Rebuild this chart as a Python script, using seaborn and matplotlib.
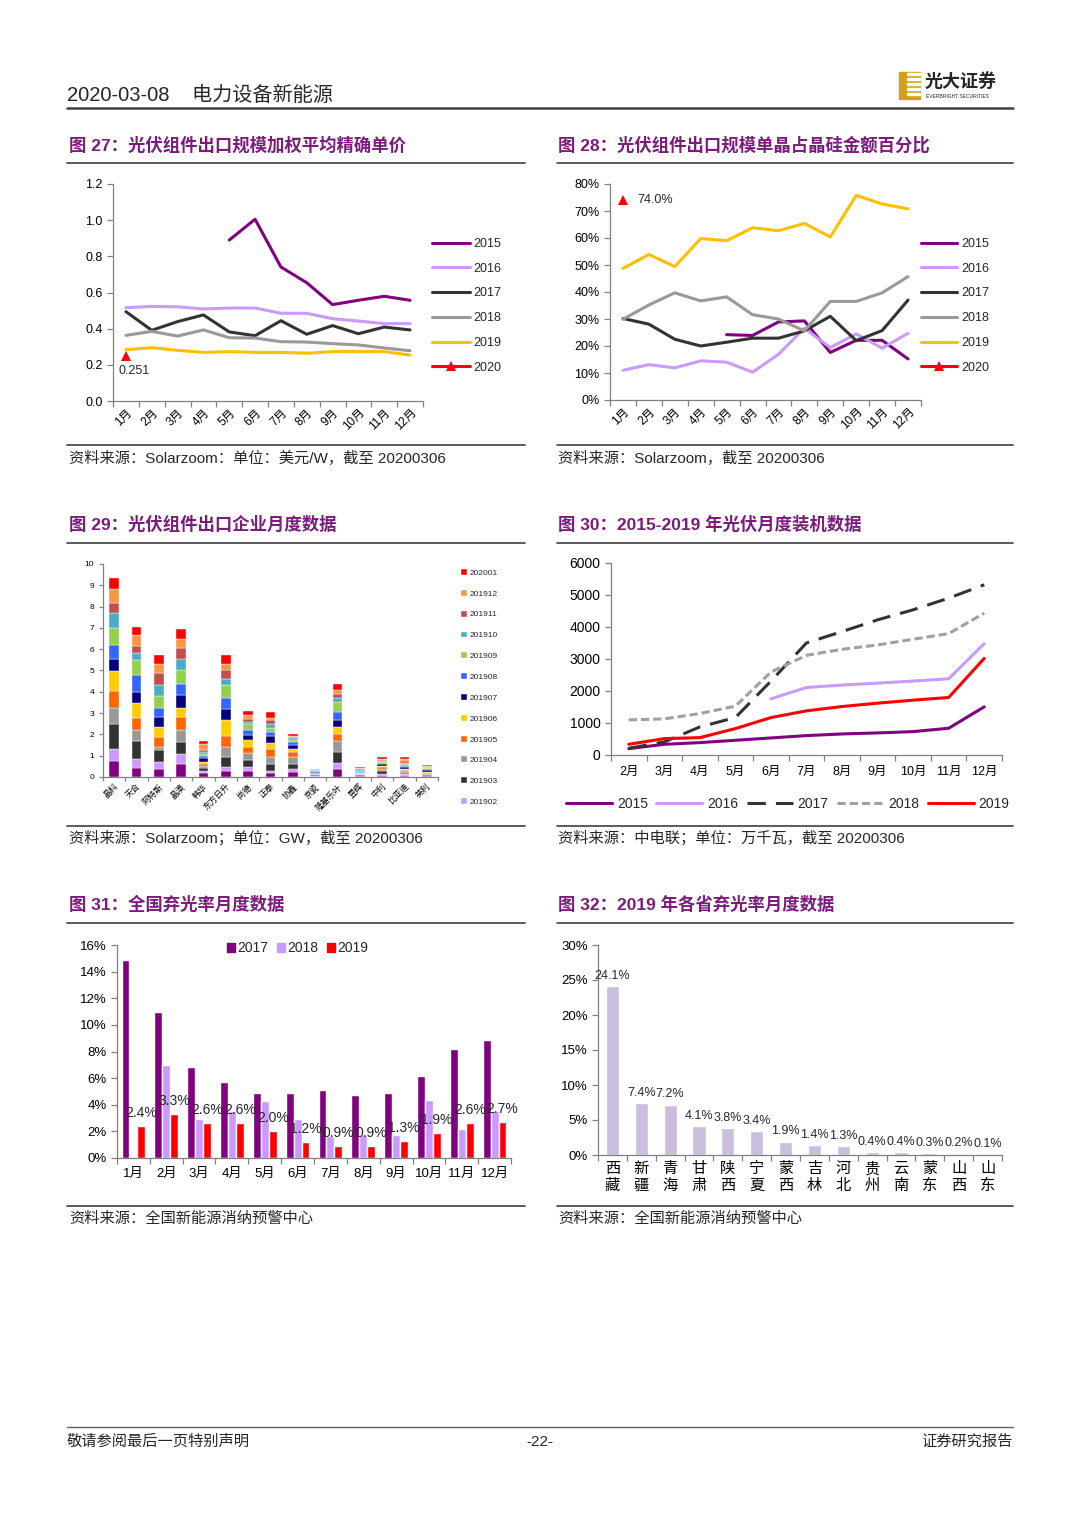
import numpy as np
import pandas as pd
import seaborn as sns
import matplotlib.pyplot as plt
from matplotlib.lines import Line2D
from matplotlib.patches import Patch, Rectangle

sns.set_theme(style='ticks')
plt.rcParams['font.family'] = ['Liberation Sans', 'Noto Sans CJK SC']
plt.rcParams['axes.unicode_minus'] = False

# ---------------- data ----------------
months12 = [f'{i}月' for i in range(1, 13)]
nan = np.nan

# fig 27: weighted average price (USD/W)
price_2015 = [nan, nan, nan, nan, 0.89, 1.005, 0.741, 0.654, 0.533, 0.557, 0.579, 0.557]
price_2016 = [0.516, 0.523, 0.521, 0.509, 0.514, 0.514, 0.485, 0.485, 0.455, 0.442, 0.428, 0.428]
price_2017 = [0.494, 0.391, 0.439, 0.476, 0.382, 0.361, 0.444, 0.369, 0.417, 0.372, 0.409, 0.393]
price_2018 = [0.363, 0.385, 0.359, 0.393, 0.350, 0.348, 0.328, 0.326, 0.317, 0.310, 0.293, 0.278]
price_2019 = [0.284, 0.295, 0.280, 0.269, 0.273, 0.269, 0.269, 0.264, 0.273, 0.273, 0.273, 0.254]
price_2020 = [0.251]

# fig 28: mono share of export value (%)
mono_2015 = [nan, nan, nan, nan, 24.2, 23.9, 28.9, 29.3, 17.6, 22.1, 22.1, 15.2]
mono_2016 = [11.0, 13.1, 11.9, 14.5, 14.0, 10.3, 16.9, 26.6, 19.4, 24.5, 19.2, 24.7]
mono_2017 = [30.2, 28.1, 22.5, 20.0, 21.4, 22.9, 22.9, 25.6, 31.0, 22.0, 25.7, 37.0]
mono_2018 = [29.9, 35.2, 39.7, 36.7, 38.2, 31.6, 30.0, 25.6, 36.5, 36.5, 39.7, 45.7]
mono_2019 = [48.7, 53.9, 49.4, 59.8, 59.0, 63.8, 62.7, 65.4, 60.4, 75.8, 72.6, 70.8]
mono_2020 = [74.0]

# fig 29: monthly export per company (GW), 201901 ... 202001
companies = ['晶科', '天合', '阿特斯', '晶澳', '韩华', '东方日升', '尚德', '正泰',
             '协鑫', '京瓷', '隆基乐叶', '昱辉', '中利', '比亚迪', '英利']
periods = ['201901', '201902', '201903', '201904', '201905', '201906', '201907',
           '201908', '201909', '201910', '201911', '201912', '202001']
jinko = [0.74, 0.58, 1.16, 0.78, 0.80, 0.92, 0.54, 0.68, 0.80, 0.70, 0.45, 0.69, 0.49]
trina = [0.44, 0.42, 0.82, 0.55, 0.54, 0.69, 0.55, 0.80, 0.66, 0.35, 0.34, 0.50, 0.39]
canadian = [0.39, 0.30, 0.60, 0.14, 0.44, 0.50, 0.45, 0.44, 0.55, 0.50, 0.55, 0.45, 0.44]
jasolar = [0.63, 0.45, 0.55, 0.60, 0.59, 0.44, 0.61, 0.49, 0.66, 0.53, 0.50, 0.45, 0.46]
hanwha = [0.19, 0.08, 0.16, 0.09, 0.10, 0.10, 0.16, 0.10, 0.10, 0.10, 0.11, 0.25, 0.17]
risen = [0.28, 0.21, 0.45, 0.49, 0.50, 0.73, 0.55, 0.50, 0.60, 0.30, 0.41, 0.29, 0.40]
suntech = [0.28, 0.21, 0.29, 0.35, 0.30, 0.29, 0.25, 0.26, 0.25, 0.09, 0.16, 0.19, 0.20]
chint = [0.19, 0.09, 0.35, 0.29, 0.41, 0.25, 0.35, 0.20, 0.19, 0.16, 0.20, 0.09, 0.26]
gcl = [0.23, 0.15, 0.25, 0.29, 0.26, 0.15, 0.16, 0.14, 0.11, 0.09, 0.07, 0.04, 0.09]
kyocera = [0.02, 0.02, 0.05, 0.03, 0.05, 0.02, 0.04, 0.03, 0.03, 0.04, 0.02, 0.02, 0.02]
longi = [0.38, 0.29, 0.51, 0.50, 0.36, 0.31, 0.31, 0.40, 0.45, 0.20, 0.21, 0.16, 0.29]
renesola = [0.03, 0.03, 0.03, 0.03, 0.03, 0.04, 0.02, 0.04, 0.05, 0.06, 0.03, 0.03, 0.05]
zhongli = [0.04, 0.08, 0.16, 0.10, 0.07, 0.08, 0.06, 0.06, 0.05, 0.06, 0.05, 0.04, 0.07]
byd = [0.05, 0.10, 0.03, 0.09, 0.05, 0.06, 0.07, 0.08, 0.07, 0.06, 0.09, 0.10, 0.07]
yingli = [0.03, 0.03, 0.04, 0.04, 0.07, 0.03, 0.08, 0.05, 0.04, 0.04, 0.04, 0.03, 0.06]
company_rows = [jinko, trina, canadian, jasolar, hanwha, risen, suntech, chint, gcl,
                kyocera, longi, renesola, zhongli, byd, yingli]
period_colors = ['#800080', '#CC99FF', '#333333', '#999999', '#FF6600', '#FFCC00',
                 '#000080', '#3366FF', '#92D050', '#4BACC6', '#C0504D', '#F79646', '#FF0000']

# fig 30: cumulative installation (10MW)
months_feb = [f'{i}月' for i in range(2, 13)]
inst_2015 = [199, 334, 387, 460, 533, 606, 658, 690, 731, 836, 1505]
inst_2016 = [nan, nan, nan, nan, 1756, 2111, 2185, 2247, 2310, 2383, 3480]
inst_2017 = [209, 408, 878, 1170, 2310, 3502, 3857, 4223, 4537, 4902, 5320]
inst_2018 = [1098, 1129, 1296, 1526, 2592, 3115, 3303, 3439, 3617, 3794, 4432]
inst_2019 = [334, 512, 543, 826, 1170, 1380, 1515, 1620, 1714, 1797, 3020]

# fig 31: national curtailment rate (%)
curt_2017 = [14.85, 11.0, 6.8, 5.7, 4.85, 4.9, 5.1, 4.7, 4.85, 6.15, 8.2, 8.85]
curt_2018 = [nan, 6.95, 2.95, 3.5, 4.3, 2.95, 1.65, 1.7, 1.75, 4.35, 2.15, 3.5]
curt_2019 = [2.4, 3.3, 2.6, 2.6, 2.0, 1.2, 0.9, 0.9, 1.3, 1.9, 2.6, 2.7]

# fig 32: 2019 curtailment rate by province (%)
provinces = ['西藏', '新疆', '青海', '甘肃', '陕西', '宁夏', '蒙西', '吉林', '河北',
             '贵州', '云南', '蒙东', '山西', '山东']
prov_rate = [24.1, 7.4, 7.2, 4.1, 3.8, 3.4, 1.9, 1.4, 1.3, 0.4, 0.4, 0.3, 0.2, 0.1]

year_colors = {'2015': '#800080', '2016': '#CC99FF', '2017': '#333333',
               '2018': '#999999', '2019': '#FFC000', '2020': '#FF0000'}
TITLE_C = '#7B1C7D'

# ---------------- page ----------------
W, H = 1080, 1528
fig = plt.figure(figsize=(W / 100, H / 100), dpi=100)


def fx(x):
    return x / W


def fy(y):
    return 1 - y / H


def px_axes(l, t, r, b):
    return fig.add_axes([fx(l), fy(b), (r - l) / W, (b - t) / H])


def hline(x0, x1, y, lw=1.2, color='#404040'):
    fig.add_artist(Line2D([fx(x0), fx(x1)], [fy(y), fy(y)], color=color, lw=lw))


def base_style(ax, fs=9):
    sns.despine(ax=ax)
    for s in ['left', 'bottom']:
        ax.spines[s].set_color('#808080')
        ax.spines[s].set_linewidth(0.9)
    ax.tick_params(axis='both', colors='#808080', labelcolor='black', labelsize=fs,
                   width=0.9, length=4, direction='out')
    ax.set_xlabel('')
    ax.set_ylabel('')
    ax.grid(False)


def cat_ticks(ax, labels, fs, rotation=0):
    n = len(labels)
    ax.set_xlim(-0.5, n - 0.5)
    ax.set_xticks(np.arange(n))
    ax.set_xticks(np.arange(-0.5, n), minor=True)
    ax.tick_params(axis='x', which='major', length=0, pad=4)
    ax.tick_params(axis='x', which='minor', length=4, colors='#808080', width=0.9)
    if rotation:
        ax.set_xticklabels(labels, fontsize=fs, rotation=rotation, ha='right',
                           rotation_mode='anchor')
    else:
        ax.set_xticklabels(labels, fontsize=fs)


# header
fig.text(fx(67), fy(95), '2020-03-08    电力设备新能源', fontsize=14.5, va='center', ha='left')
hline(67, 1013, 108, lw=1.8, color='#404040')
fig.add_artist(Rectangle((fx(899), fy(99)), 21 / W, 27 / H, color='#D4A017',
                         transform=fig.transFigure))
for k in range(5):
    fig.add_artist(Rectangle((fx(907), fy(95 - k * 5)), 13 / W, 2 / H, color='white',
                             transform=fig.transFigure))
fig.text(fx(925), fy(82), '光大证券', fontsize=13, fontweight='bold', va='center', ha='left')
fig.text(fx(926), fy(97), 'EVERBRIGHT SECURITIES', fontsize=3.6, va='center', ha='left')

titles = [(69, 145, '图 27：光伏组件出口规模加权平均精确单价'),
          (558, 145, '图 28：光伏组件出口规模单晶占晶硅金额百分比'),
          (69, 524, '图 29：光伏组件出口企业月度数据'),
          (558, 524, '图 30：2015-2019 年光伏月度装机数据'),
          (69, 904, '图 31：全国弃光率月度数据'),
          (558, 904, '图 32：2019 年各省弃光率月度数据')]
for x, y, t in titles:
    fig.text(fx(x), fy(y), t, fontsize=12.5, fontweight='bold', color=TITLE_C,
             va='center', ha='left')

sources = [(69, 458, '资料来源：Solarzoom：单位：美元/W，截至 20200306'),
           (558, 458, '资料来源：Solarzoom，截至 20200306'),
           (69, 838, '资料来源：Solarzoom；单位：GW，截至 20200306'),
           (558, 838, '资料来源：中电联；单位：万千瓦，截至 20200306'),
           (69, 1219, '资料来源：全国新能源消纳预警中心'),
           (558, 1219, '资料来源：全国新能源消纳预警中心')]
for x, y, t in sources:
    fig.text(fx(x), fy(y), t, fontsize=11, va='center', ha='left')

for y in [163, 445, 543, 826, 923, 1206]:
    hline(67, 525, y)
    hline(557, 1013, y)

hline(67, 1013, 1427, lw=1.0, color='#606060')
fig.text(fx(67), fy(1442), '敬请参阅最后一页特别声明', fontsize=11, va='center', ha='left')
fig.text(fx(540), fy(1442), '-22-', fontsize=11, va='center', ha='center')
fig.text(fx(1013), fy(1442), '证券研究报告', fontsize=11, va='center', ha='right')


def year_lines(ax, series, lw=2.2):
    idx = np.arange(12)
    for yr, vals in series:
        if yr == '2020':
            sns.lineplot(x=idx[:len(vals)], y=vals, ax=ax, color=year_colors[yr], lw=lw,
                         marker='^', markersize=7, markeredgewidth=0, label=yr)
        else:
            sns.lineplot(x=idx, y=vals, ax=ax, color=year_colors[yr], lw=lw, label=yr)


# ---------------- fig 27 ----------------
ax = px_axes(113, 184, 423, 401)
year_lines(ax, [('2015', price_2015), ('2016', price_2016), ('2017', price_2017),
                ('2018', price_2018), ('2019', price_2019), ('2020', price_2020)])
base_style(ax, 9)
ax.set_ylim(0, 1.2)
ax.set_yticks(np.arange(0, 1.21, 0.2))
ax.set_yticklabels([f'{v:.1f}' for v in np.arange(0, 1.21, 0.2)])
cat_ticks(ax, months12, 8.5, rotation=45)
ax.annotate(f'{price_2020[0]:.3f}', (0, price_2020[0]), xytext=(6, -7),
            textcoords='offset points', ha='center', va='top', fontsize=9)
ax.legend(loc='upper left', bbox_to_anchor=(fx(432), fy(238)), bbox_transform=fig.transFigure,
          frameon=False, fontsize=9, handlelength=3.0, handletextpad=0.3,
          labelspacing=1.02, borderpad=0, borderaxespad=0)

# ---------------- fig 28 ----------------
ax = px_axes(610, 184, 921, 400)
year_lines(ax, [('2015', mono_2015), ('2016', mono_2016), ('2017', mono_2017),
                ('2018', mono_2018), ('2019', mono_2019), ('2020', mono_2020)])
base_style(ax, 9)
ax.set_ylim(0, 80)
ax.set_yticks(np.arange(0, 81, 10))
ax.set_yticklabels([f'{v}%' for v in range(0, 81, 10)])
cat_ticks(ax, months12, 8.5, rotation=45)
ax.annotate(f'{mono_2020[0]:.1f}%', (0, mono_2020[0]), xytext=(10, 0),
            textcoords='offset points', ha='left', va='center', fontsize=9)
ax.legend(loc='upper left', bbox_to_anchor=(fx(921), fy(238)), bbox_transform=fig.transFigure,
          frameon=False, fontsize=9, handlelength=2.9, handletextpad=0.3,
          labelspacing=1.02, borderpad=0, borderaxespad=0)

# ---------------- fig 29 ----------------
ax = px_axes(103, 564, 438, 777)
comp_df = pd.DataFrame(company_rows, index=companies, columns=periods)
bottom = np.zeros(len(companies))
xs = np.arange(len(companies))
for p, c in zip(periods, period_colors):
    ax.bar(xs, comp_df[p].values, bottom=bottom, width=0.44, color=c, label=p,
           edgecolor='white', linewidth=0.3)
    bottom += comp_df[p].values
base_style(ax, 6)
ax.set_ylim(0, 10)
ax.set_yticks(range(0, 11))
ax.tick_params(axis='y', length=3)
cat_ticks(ax, companies, 6, rotation=45)
ax.tick_params(axis='x', which='minor', length=3)
h, l = ax.get_legend_handles_labels()
ax.legend(h[::-1][:12], l[::-1][:12], loc='upper left', bbox_to_anchor=(fx(461), fy(569)),
          bbox_transform=fig.transFigure, frameon=False, fontsize=6, handlelength=0.7,
          handleheight=0.7, handletextpad=0.3, labelspacing=1.56, borderpad=0,
          borderaxespad=0)

# ---------------- fig 30 ----------------
ax = px_axes(611, 563, 1002, 755)
idx11 = np.arange(11)
sns.lineplot(x=idx11, y=inst_2015, ax=ax, color='#800080', lw=2.2, label='2015')
sns.lineplot(x=idx11, y=inst_2016, ax=ax, color='#CC99FF', lw=2.2, label='2016')
sns.lineplot(x=idx11, y=inst_2017, ax=ax, color='#333333', lw=2.2, label='2017')
ax.lines[-1].set_linestyle((0, (6, 3.3)))
sns.lineplot(x=idx11, y=inst_2018, ax=ax, color='#A0A0A0', lw=2.2, label='2018')
ax.lines[-1].set_linestyle((0, (2.7, 1.3)))
sns.lineplot(x=idx11, y=inst_2019, ax=ax, color='#FF0000', lw=2.2, label='2019')
base_style(ax, 10)
ax.set_ylim(0, 6000)
ax.set_yticks(range(0, 6001, 1000))
cat_ticks(ax, months_feb, 9)
ax.tick_params(axis='x', which='major', pad=8)
ax.legend(loc='center left', bbox_to_anchor=(fx(566), fy(804)), bbox_transform=fig.transFigure,
          ncol=5, frameon=False, fontsize=10, handlelength=3.3, handletextpad=0.36,
          columnspacing=0.62, borderpad=0, borderaxespad=0)

# ---------------- fig 31 ----------------
ax = px_axes(117, 945, 511, 1158)
curt_df = pd.DataFrame({'month': months12 * 3,
                        'year': ['2017'] * 12 + ['2018'] * 12 + ['2019'] * 12,
                        'rate': curt_2017 + curt_2018 + curt_2019})
curt_pal = {'2017': '#800080', '2018': '#CC99FF', '2019': '#FF0000'}
sns.barplot(data=curt_df, x='month', y='rate', hue='year', palette=curt_pal,
            width=0.72, ax=ax, saturation=1, errorbar=None, legend=False)
base_style(ax, 9.5)
ax.set_ylim(0, 16)
ax.set_yticks(range(0, 17, 2))
ax.set_yticklabels([f'{v}%' for v in range(0, 17, 2)])
cat_ticks(ax, months12, 9.5)
ax.tick_params(axis='x', which='major', pad=7)
off = 0.72 / 3
for i, v in enumerate(curt_2019):
    ax.text(i + off, v + 0.45, f'{v:.1f}%', ha='center', va='bottom', fontsize=10)
ax.legend(handles=[Patch(color=curt_pal[k]) for k in curt_pal], labels=list(curt_pal),
          loc='center left', bbox_to_anchor=(fx(227), fy(948)), bbox_transform=fig.transFigure,
          ncol=3, frameon=False, fontsize=10, handlelength=0.6, handleheight=0.6,
          handletextpad=0.15, columnspacing=0.6, borderpad=0, borderaxespad=0)

# ---------------- fig 32 ----------------
ax = px_axes(598, 945, 1002, 1155)
sns.barplot(x=provinces, y=prov_rate, color='#C9BFDD', width=0.46, ax=ax, saturation=1,
            errorbar=None)
base_style(ax, 9.5)
ax.set_ylim(0, 30)
ax.set_yticks(range(0, 31, 5))
ax.set_yticklabels([f'{v}%' for v in range(0, 31, 5)])
cat_ticks(ax, ['\n'.join(p) for p in provinces], 11)
ax.tick_params(axis='x', which='major', pad=5)
for lab in ax.get_xticklabels():
    lab.set_linespacing(1.25)
for i, v in enumerate(prov_rate):
    ax.text(i, v + 0.6, f'{v:.1f}%', ha='center', va='bottom', fontsize=9)

fig.savefig('out.png', dpi=100)
